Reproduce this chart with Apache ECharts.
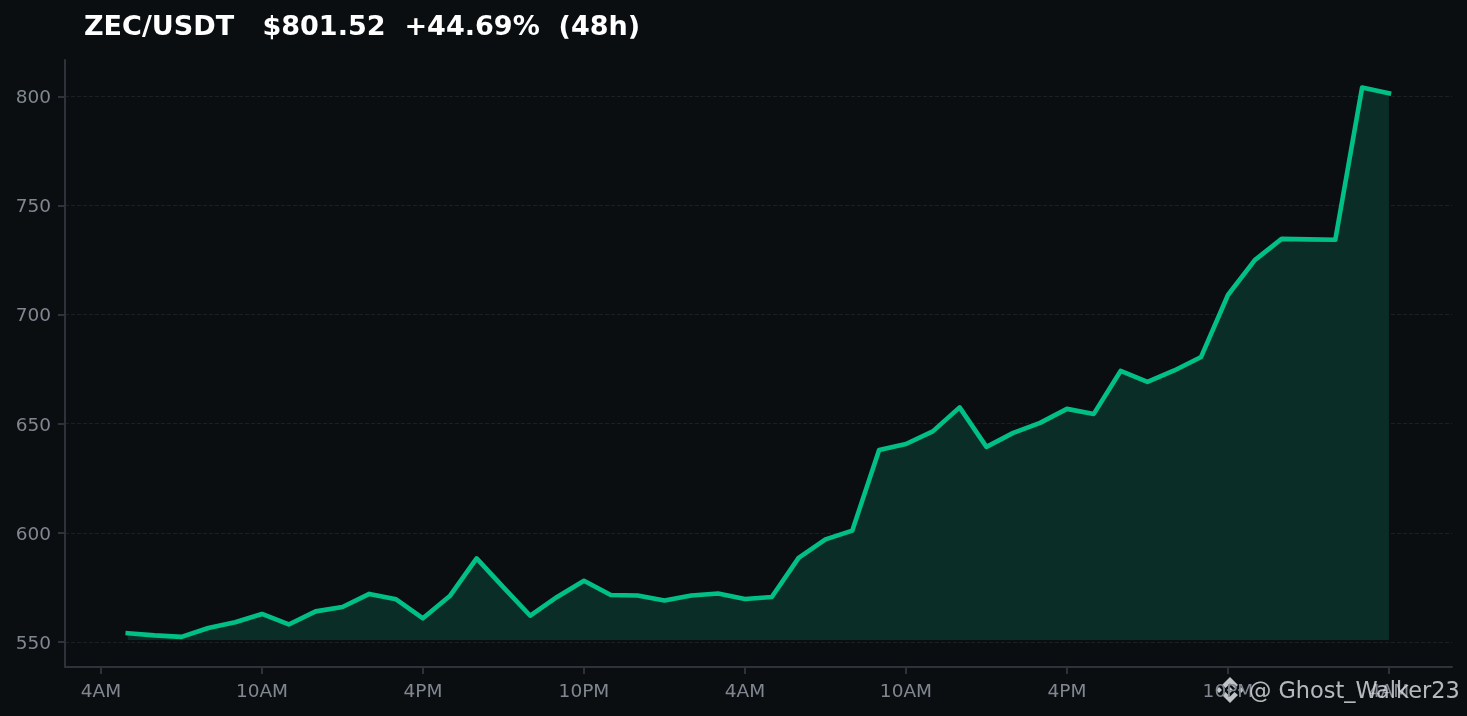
<!DOCTYPE html>
<html><head><meta charset="utf-8">
<style>html,body{margin:0;padding:0;background:#0b0e11;}#c{width:1467px;height:716px;}</style>
<script src="https://cdn.jsdelivr.net/npm/echarts@6/dist/echarts.min.js"></script>
</head><body><div id="c"></div>
<script>
const titleText = 'ZEC/USDT   $801.52  +44.69%  (48h)';
const watermark = '@ Ghost_Walker23';
const hours = [1,2,3,4,5,6,7,8,9,10,11,12,13,14,15,16,17,18,19,20,21,22,23,24,25,26,27,28,29,30,31,32,33,34,35,36,37,38,39,40,41,42,43,44,45,46,47,48];
const prices = [554,553,552.3,556.4,559,562.8,558,564,566,572,569.5,560.8,571,588.3,575,562,570.6,578,571.5,571.3,569,571.3,572.2,569.7,570.6,588.5,597,601,638,640.7,646.5,657.5,639.4,645.8,650.4,656.8,654.5,674.2,669.2,674.4,680.6,709,725,734.7,734.5,734.3,804.1,801.5];
const xTicks = [0,6,12,18,24,30,36,42,48];
const xTickLabels = ['4AM','10AM','4PM','10PM','4AM','10AM','4PM','10PM','4AM'];
const yTicks = [550,600,650,700,750,800];
const areaBase = 550.9;

const chart = echarts.init(document.getElementById('c'), null, {renderer:'canvas'});
const axisCol = '#2e333a', labelCol = '#808791';
const font = '"DejaVu Sans"';
const logoFill = 'rgba(225,228,232,0.85)';
chart.setOption({
  backgroundColor:'#0b0e11',
  animation:false,
  title:{text:titleText,left:79,top:9,textStyle:{color:'#ffffff',fontFamily:font,fontWeight:'bold',fontSize:27.05}},
  grid:{left:65,right:15,top:60,bottom:49},
  xAxis:{type:'value',min:-1.34,max:50.35,
    axisLine:{show:true,onZero:false,lineStyle:{color:axisCol,width:2}},
    axisTick:{show:true,length:7,lineStyle:{color:axisCol,width:2},customValues:xTicks},
    axisLabel:{color:labelCol,fontFamily:font,fontSize:18.5,margin:16,customValues:xTicks,
      formatter:(v)=>xTickLabels[xTicks.indexOf(v)]||''},
    splitLine:{show:false}},
  yAxis:{type:'value',min:538.5,max:816.7,
    axisLine:{show:true,onZero:false,lineStyle:{color:axisCol,width:2}},
    axisTick:{show:true,inside:false,length:7,lineStyle:{color:axisCol,width:2},customValues:yTicks},
    axisLabel:{color:labelCol,fontFamily:font,fontSize:18.5,margin:14,verticalAlign:'top',lineHeight:4,customValues:yTicks},
    splitLine:{show:true,lineStyle:{color:'#1c2025',width:1,type:[4,2]}}},
  series:[{type:'line',data:hours.map((h,i)=>[h,prices[i]]),symbol:'none',smooth:false,
    lineStyle:{color:'#00c087',width:4.6,join:'round',cap:'square'},
    areaStyle:{color:'#0a2e27',opacity:1,origin:areaBase}}],
  graphic:[
    {type:'text',left:1249,top:681,z:100,style:{text:watermark,fill:'rgba(225,228,232,0.8)',font:'22.4px "DejaVu Sans"'}},
    {type:'group',left:1216,top:677,z:100,children:[
      {type:'polygon',shape:{points:[[14,0],[22,8],[18.5,11],[14,6.5],[9.5,11],[6,8]]},style:{fill:logoFill}},
      {type:'polygon',shape:{points:[[14,26],[22,18],[18.5,15],[14,19.5],[9.5,15],[6,18]]},style:{fill:logoFill}},
      {type:'polygon',shape:{points:[[0,13],[3,10],[6,13],[3,16]]},style:{fill:logoFill}},
      {type:'polygon',shape:{points:[[28,13],[25,10],[22,13],[25,16]]},style:{fill:logoFill}},
      {type:'polygon',shape:{points:[[14,10],[17,13],[14,16],[11,13]]},style:{fill:logoFill}}
    ]}
  ]
});
</script></body></html>
